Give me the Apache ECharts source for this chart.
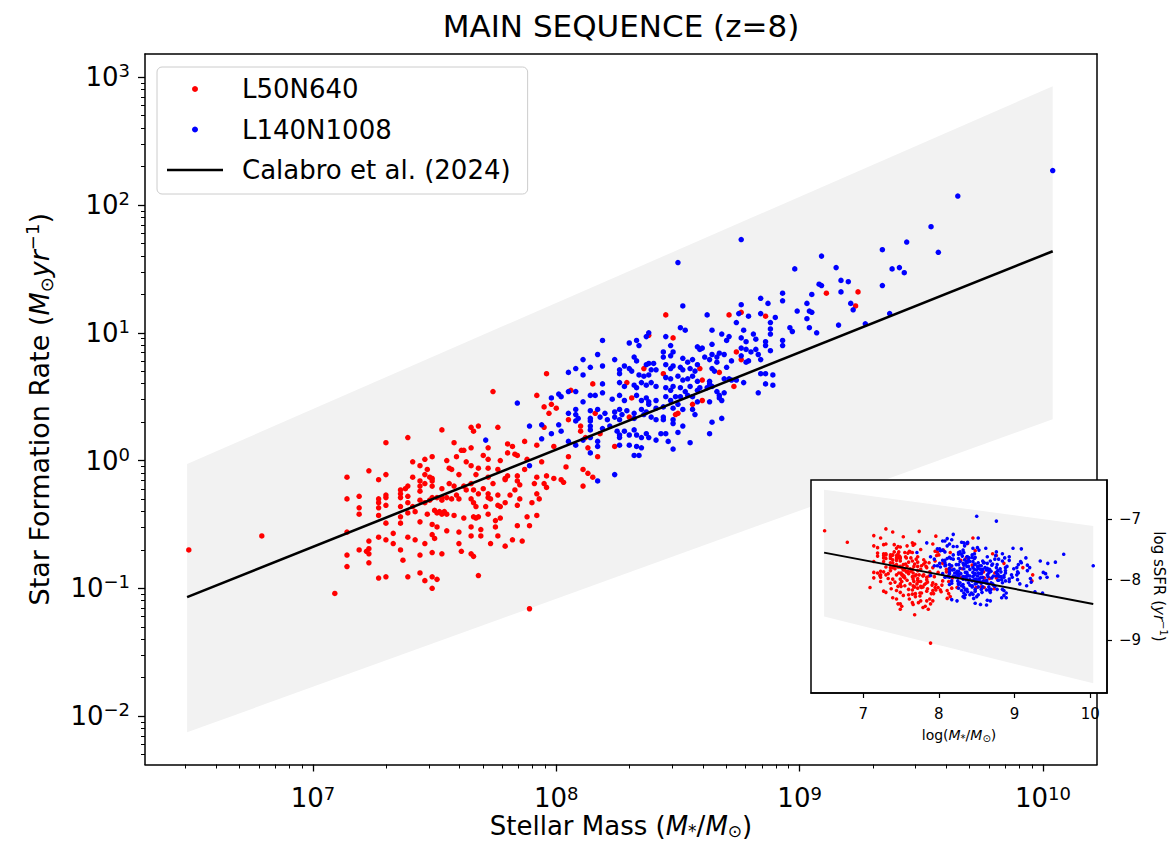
<!DOCTYPE html>
<html><head><meta charset="utf-8">
<script src="https://cdn.jsdelivr.net/npm/echarts@6/dist/echarts.min.js"></script>
<style>html,body{margin:0;padding:0;background:#fff}#c{width:1171px;height:846px}</style>
</head><body><div id="c"></div>
<script>
const titleText = 'MAIN SEQUENCE (z=8)';
const seriesNames = ['L50N640', 'L140N1008', 'Calabro et al. (2024)'];
const xTickExponents = [7, 8, 9, 10];
const yTickExponents = [-2, -1, 0, 1, 2, 3];
const insetXTicks = [7, 8, 9, 10];
const insetYTicks = [-9, -8, -7];
const logMassRange = [6.31, 10.222];
const logSFRRange = [-2.379, 3.182];
const logSSFRRange = [-9.876, -6.35];
const bandLogMass = [6.483, 10.04];
const bandUpperLogSFR = [-0.027, 2.929];
const bandLowerLogSFR = [-2.127, 0.324];
const calabroLogMass = [6.483, 10.04];
const calabroLogSFR = [-1.069, 1.638];

// [log10 M*, log10 SFR]
const redPoints = [
[6.49,-0.70],[6.79,-0.59],[7.09,-1.04],[7.89,-1.16],
[7.14,-0.13],[7.14,-0.30],[7.14,-0.56],[7.14,-0.74],[7.14,-0.83],
[7.19,-0.28],[7.19,-0.37],[7.19,-0.42],[7.19,-0.70],
[7.23,-0.08],[7.23,-0.63],[7.23,-0.69],[7.22,-0.71],[7.23,-0.73],[7.23,-0.80],
[7.27,-0.15],[7.27,-0.30],[7.27,-0.33],[7.27,-0.37],[7.27,-0.43],[7.27,-0.60],[7.27,-0.92],
[7.74,0.54],[7.92,0.51],[7.95,0.42],[7.98,0.44],[8.00,0.41],[7.97,0.37],
[7.53,0.24],[7.65,0.26],[7.68,0.27],[7.66,0.23],[7.76,0.26],[7.95,0.26],
[7.30,0.14],[7.39,0.18],[7.58,0.14],[7.80,0.13],[7.82,0.11],[7.87,0.15],[7.92,0.12],
[7.61,0.08],[7.62,0.08],[7.65,0.10],[7.72,0.10],[7.80,0.06],[7.83,0.05],[7.84,0.04],[7.99,0.11],
[7.49,0.03],[7.46,0.01],[7.41,-0.01],[7.55,0.00],[7.59,0.03],[7.63,-0.01],[7.65,-0.04],[7.70,0.04],[7.72,0.01],[7.77,0.00],[7.88,0.01],[7.94,-0.01],[8.05,0.03],
[7.44,-0.04],[7.47,-0.07],[7.46,-0.11],[7.56,-0.06],[7.57,-0.07],[7.68,-0.06],[7.72,-0.06],[7.76,-0.07],[7.87,-0.07],[8.04,-0.05],
[7.41,-0.13],[7.48,-0.13],[7.49,-0.14],[7.60,-0.11],[7.67,-0.11],[7.72,-0.13],[7.79,-0.14],[7.80,-0.12],[7.84,-0.12],[7.92,-0.13],[7.96,-0.12],[7.99,-0.14],
[7.30,-0.11],[7.36,-0.23],[7.36,-0.26],[7.39,-0.20],[7.38,-0.22],[7.44,-0.16],[7.44,-0.20],[7.44,-0.24],[7.46,-0.18],[7.49,-0.16],[7.49,-0.20],[7.53,-0.22],[7.56,-0.18],[7.58,-0.20],[7.62,-0.20],[7.63,-0.23],[7.65,-0.18],[7.66,-0.23],[7.68,-0.26],[7.70,-0.22],[7.72,-0.26],[7.74,-0.18],[7.79,-0.15],[7.84,-0.16],[7.85,-0.19],[7.83,-0.23],[7.91,-0.18],[7.95,-0.18],[7.96,-0.21],[8.02,-0.15],[8.03,-0.17],
[7.30,-0.27],[7.30,-0.29],[7.30,-0.35],[7.36,-0.29],[7.36,-0.36],[7.39,-0.33],[7.39,-0.28],[7.41,-0.36],[7.44,-0.31],[7.46,-0.33],[7.49,-0.29],[7.48,-0.31],[7.51,-0.29],[7.53,-0.29],[7.53,-0.31],[7.55,-0.29],[7.57,-0.30],[7.59,-0.27],[7.60,-0.30],[7.65,-0.30],[7.66,-0.33],[7.67,-0.36],[7.71,-0.36],[7.72,-0.29],[7.73,-0.30],[7.76,-0.27],[7.77,-0.36],[7.76,-0.35],[7.79,-0.33],[7.81,-0.27],[7.84,-0.35],[7.85,-0.30],[7.90,-0.33],[7.92,-0.26],[7.93,-0.30],
[7.30,-0.49],[7.36,-0.44],[7.36,-0.49],[7.39,-0.41],[7.42,-0.40],[7.44,-0.48],[7.47,-0.42],[7.49,-0.50],[7.50,-0.39],[7.51,-0.41],[7.52,-0.40],[7.53,-0.42],[7.54,-0.40],[7.55,-0.42],[7.51,-0.52],[7.55,-0.55],[7.58,-0.43],[7.60,-0.56],[7.62,-0.45],[7.65,-0.52],[7.66,-0.44],[7.67,-0.45],[7.68,-0.44],[7.69,-0.54],[7.72,-0.42],[7.75,-0.47],[7.75,-0.52],[7.77,-0.45],[7.84,-0.51],[7.88,-0.44],[7.89,-0.51],[7.92,-0.43],
[7.30,-0.62],[7.33,-0.57],[7.33,-0.65],[7.36,-0.70],[7.37,-0.78],[7.39,-0.60],[7.42,-0.62],[7.46,-0.65],[7.49,-0.58],[7.50,-0.61],[7.49,-0.72],[7.53,-0.73],[7.60,-0.65],[7.65,-0.59],[7.61,-0.71],[7.65,-0.73],[7.66,-0.75],[7.69,-0.59],[7.73,-0.65],[7.76,-0.59],[7.79,-0.67],[7.82,-0.62],[7.86,-0.63],
[7.44,-0.74],[7.39,-0.91],[7.44,-0.88],[7.49,-0.91],[7.68,-0.90],[7.30,-0.91],[7.46,-0.94],[7.51,-0.93],[7.49,-1.00],
[7.96,0.68],[8.06,0.55],[8.15,0.60],[8.29,0.61],[8.36,0.72],[8.31,0.49],[8.16,0.37],[8.05,0.32],[8.30,0.34],[8.10,0.27],[8.10,0.23],[8.18,0.21],[8.12,0.18],[8.24,0.11],[8.13,0.10],[8.17,0.03],[8.11,-0.07],[8.13,-0.10],[8.15,-0.13],[8.11,-0.20],[8.38,0.98],
[8.45,1.14],[8.71,1.14],[8.76,1.16],[8.86,1.13],[8.48,0.96],[8.74,0.85],[8.76,0.79],[8.59,0.72],[8.67,0.69],[8.44,0.68],[8.60,0.63],[8.73,0.58],[8.60,0.47],[8.56,0.44],[8.50,0.37],[8.49,0.36],
[9.11,1.31],[9.24,1.32],[9.23,1.21]
];

const bluePoints = [
[7.84,0.45],[7.98,0.49],[8.01,0.52],[8.02,0.50],[8.05,0.54],[8.05,0.37],[7.89,0.27],[7.94,0.28],[7.98,0.21],[8.01,0.28],[8.02,0.23],[7.71,0.16],[7.94,0.17],[8.05,0.15],[7.89,-0.04],
[8.05,0.69],[8.08,0.72],[8.11,0.67],[8.11,0.79],[8.14,0.73],[8.17,0.83],[8.19,0.94],[8.19,0.74],[8.24,0.79],[8.26,0.71],[8.26,0.68],[8.30,0.92],[8.33,0.94],[8.34,0.90],[8.37,0.97],[8.38,1.00],[8.32,0.81],[8.33,0.78],[8.28,0.74],[8.30,0.72],[8.31,0.70],[8.37,0.75],[8.38,0.76],[8.40,0.76],[8.39,0.71],[8.41,0.71],[8.34,0.67],[8.36,0.66],[8.38,0.67],[8.26,0.61],[8.28,0.58],[8.19,0.60],[8.32,0.59],[8.33,0.57],[8.35,0.61],[8.37,0.59],[8.39,0.61],[8.41,0.58],
[8.08,0.54],[8.11,0.46],[8.14,0.51],[8.16,0.51],[8.19,0.53],[8.23,0.48],[8.26,0.51],[8.28,0.47],[8.33,0.51],[8.35,0.47],[8.37,0.49],[8.38,0.46],[8.38,0.44],[8.41,0.47],[8.41,0.41],
[8.08,0.40],[8.08,0.36],[8.09,0.33],[8.08,0.31],[8.14,0.39],[8.14,0.33],[8.14,0.31],[8.17,0.40],[8.18,0.34],[8.20,0.37],[8.21,0.32],[8.24,0.38],[8.24,0.34],[8.26,0.40],[8.27,0.36],[8.26,0.32],[8.29,0.39],[8.32,0.37],[8.32,0.33],[8.35,0.40],[8.36,0.36],[8.37,0.38],[8.39,0.34],[8.41,0.32],
[8.14,0.27],[8.14,0.24],[8.19,0.25],[8.22,0.27],[8.25,0.23],[8.26,0.20],[8.26,0.18],[8.28,0.23],[8.30,0.20],[8.32,0.24],[8.33,0.20],[8.35,0.18],[8.37,0.21],[8.38,0.18],[8.41,0.16],[8.14,0.18],[8.17,0.15],[8.11,0.16],[8.08,0.12],[8.30,0.12],[8.26,0.12],[8.33,0.11],[8.35,0.10],[8.17,0.11],[8.14,0.06],[8.32,0.04],[8.34,0.04],[8.24,-0.11],[8.17,-0.16],
[8.52,1.21],[8.62,1.14],[8.75,1.15],[8.76,1.22],[8.79,1.13],[8.84,1.27],[8.87,1.23],[8.93,1.31],[8.93,1.25],[8.99,1.17],[8.84,1.15],[8.90,1.12],[8.88,1.08],[8.51,1.04],[8.53,1.02],[8.74,1.08],[8.64,1.02],[8.77,1.02],[8.81,0.99],[8.88,1.03],[8.88,0.99],[8.96,1.04],[8.97,1.01],[8.45,0.97],[8.47,0.90],[8.68,0.99],[8.70,0.94],[8.71,0.97],[8.76,0.96],[8.78,0.93],[8.82,0.95],[8.86,0.93],[8.93,0.94],
[8.58,0.89],[8.59,0.87],[8.60,0.88],[8.64,0.91],[8.64,0.83],[8.67,0.84],[8.69,0.83],[8.76,0.88],[8.78,0.87],[8.80,0.85],[8.82,0.87],[8.83,0.83],[8.86,0.90],[8.88,0.86],[8.93,0.90],
[8.44,0.85],[8.44,0.81],[8.48,0.85],[8.47,0.82],[8.52,0.80],[8.54,0.77],[8.56,0.79],[8.58,0.75],[8.61,0.81],[8.63,0.79],[8.66,0.81],[8.66,0.77],[8.72,0.78],[8.76,0.82],[8.78,0.77],[8.79,0.78],[8.84,0.79],
[8.45,0.75],[8.47,0.72],[8.48,0.74],[8.51,0.73],[8.52,0.71],[8.55,0.72],[8.57,0.70],[8.64,0.72],[8.65,0.70],[8.70,0.73],[8.84,0.68],[8.86,0.68],[8.89,0.67],
[8.45,0.65],[8.47,0.64],[8.50,0.66],[8.52,0.63],[8.54,0.64],[8.56,0.66],[8.58,0.62],[8.63,0.60],[8.63,0.62],[8.69,0.64],[8.71,0.64],[8.72,0.63],[8.74,0.63],[8.77,0.61],[8.86,0.60],[8.89,0.59],
[8.45,0.57],[8.47,0.55],[8.48,0.58],[8.51,0.57],[8.53,0.54],[8.55,0.58],[8.58,0.55],[8.59,0.57],[8.62,0.57],[8.64,0.58],[8.66,0.54],[8.67,0.51],[8.67,0.49],[8.69,0.53],[8.83,0.53],
[8.45,0.50],[8.47,0.47],[8.49,0.50],[8.51,0.50],[8.54,0.51],[8.56,0.50],[8.58,0.46],[8.63,0.46],[8.68,0.47],
[8.44,0.42],[8.48,0.41],[8.50,0.44],[8.52,0.40],[8.56,0.40],[8.57,0.36],[8.44,0.34],[8.44,0.32],[8.48,0.32],[8.48,0.29],[8.52,0.27],[8.64,0.30],[8.68,0.33],[8.45,0.21],[8.43,0.21],[8.50,0.22],[8.63,0.21],[8.46,0.15],[8.55,0.14],[8.48,0.09],
[8.76,1.73],[8.50,1.55],
[10.04,2.27],[9.65,2.07],[9.54,1.83],[9.44,1.71],[9.57,1.63],[9.34,1.65],[9.09,1.60],[8.98,1.50],[9.15,1.51],[9.38,1.50],[9.41,1.51],[9.43,1.47],[9.17,1.41],[9.20,1.40],[9.08,1.38],[9.09,1.37],[9.17,1.32],[9.05,1.30],[9.34,1.37],[9.21,1.23],[9.22,1.18],[9.03,1.23],[9.04,1.17],[9.05,1.16],[9.03,1.11],[9.37,1.15],[9.16,1.06],[9.04,1.04],[9.07,1.00],[9.27,1.07]
];

const F = 'DejaVu Sans';
const RED = '#ff0000', BLUE = '#0000ff', BAND = '#f2f2f2';

function minorTicks(lo, hi) {
  const out = [];
  for (let n = Math.floor(lo) - 1; n <= Math.ceil(hi); n++) {
    for (let k = 2; k <= 9; k++) {
      const v = n + Math.log10(k);
      if (v > lo && v < hi) out.push(v);
    }
  }
  return out;
}
const minus = v => (v < 0 ? '\u2212' + (-v) : '' + v);
const powLabel = v => '{b|10}{s|' + minus(Math.round(v)) + '}';
function mathRich(size, small, lhf, subLh) {
  const lh = Math.round(size * (lhf || 1.2));
  return {
    b: { fontFamily: F, fontSize: size, lineHeight: lh, color: '#000' },
    i: { fontFamily: F, fontSize: size, fontStyle: 'italic', lineHeight: lh, color: '#000' },
    s: { fontFamily: F, fontSize: small, lineHeight: small, verticalAlign: 'top', color: '#000' },
    sup: { fontFamily: F, fontSize: small, lineHeight: small, verticalAlign: 'top', color: '#000' },
    sub: { fontFamily: F, fontSize: small, lineHeight: subLh || Math.round(small * 1.35), verticalAlign: 'bottom', color: '#000' }
  };
}
const toSSFR = p => [p[0], p[1] - p[0]];

const spine = { show: true, onZero: false, lineStyle: { color: '#000', width: 1.5 } };
const noLine = { show: false, onZero: false };
const noSplit = { show: false };

const chart = echarts.init(document.getElementById('c'), null, { renderer: 'svg' });
chart.setOption({
  animation: false,
  backgroundColor: '#fff',
  title: {
    text: titleText, left: 621, top: 10, textAlign: 'center', padding: 0,
    textStyle: { fontFamily: F, fontSize: 31, fontWeight: 'normal', color: '#000' }
  },
  legend: {
    data: [{ name: seriesNames[0] }, { name: seriesNames[1] }, { name: seriesNames[2], icon: 'path://M0,0H200V9H0Z' }],
    orient: 'vertical', left: 157, top: 67,
    padding: [7, 17, 9, 10], itemGap: 10.5,
    itemWidth: 56, itemHeight: 6,
    backgroundColor: 'rgba(255,255,255,0.8)', borderColor: '#cccccc', borderWidth: 1, borderRadius: 5,
    textStyle: { fontFamily: F, fontSize: 26, lineHeight: 30, color: '#000', padding: [0, 0, 0, 14] }
  },
  grid: [
    { left: 145, top: 54, width: 952, height: 710.5, show: false, outerBoundsMode: 'none', containLabel: false },
    { left: 811, top: 480, width: 296, height: 213, show: true, backgroundColor: '#fff', borderColor: '#000', borderWidth: 1.5, z: 10, outerBoundsMode: 'none', containLabel: false }
  ],
  xAxis: [
    { type: 'value', gridIndex: 0, position: 'bottom', min: logMassRange[0], max: logMassRange[1],
      axisLine: spine, splitLine: noSplit,
      axisTick: { show: true, customValues: xTickExponents, length: 7, lineStyle: { color: '#000', width: 1.3 } },
      axisLabel: { customValues: xTickExponents, formatter: powLabel, margin: 20, rich: mathRich(26, 18, 1.0) },
      name: 'Stellar Mass ({i|M}{sub|*}/{i|M}{sub|\u2299})', nameLocation: 'middle', nameGap: 48, nameMoveOverlap: false,
      nameTextStyle: { fontFamily: F, fontSize: 26, lineHeight: 27, color: '#000', rich: mathRich(26, 17, 1.04, 22) } },
    { type: 'value', gridIndex: 0, position: 'bottom', min: logMassRange[0], max: logMassRange[1],
      axisLine: noLine, splitLine: noSplit, axisLabel: { show: false },
      axisTick: { show: true, customValues: minorTicks(logMassRange[0], logMassRange[1]), length: 4, lineStyle: { color: '#000', width: 1 } } },
    { type: 'value', gridIndex: 0, position: 'top', min: logMassRange[0], max: logMassRange[1],
      axisLine: spine, splitLine: noSplit, axisLabel: { show: false }, axisTick: { show: false } },
    { type: 'value', gridIndex: 1, position: 'bottom', min: logMassRange[0], max: logMassRange[1], z: 12,
      axisLine: spine, splitLine: noSplit,
      axisTick: { show: true, customValues: insetXTicks, length: 5, lineStyle: { color: '#000', width: 1.2 } },
      axisLabel: { customValues: insetXTicks, margin: 13, fontFamily: F, fontSize: 15, color: '#000' },
      name: 'log({i|M}{sub|*}/{i|M}{sub|\u2299})', nameLocation: 'middle', nameGap: 33,
      nameTextStyle: { fontFamily: F, fontSize: 14, color: '#000', rich: mathRich(14, 10) } }
  ],
  yAxis: [
    { type: 'value', gridIndex: 0, position: 'left', min: logSFRRange[0], max: logSFRRange[1],
      axisLine: spine, splitLine: noSplit,
      axisTick: { show: true, customValues: yTickExponents, length: 7, lineStyle: { color: '#000', width: 1.3 } },
      axisLabel: { customValues: yTickExponents, formatter: powLabel, margin: 15, rich: mathRich(26, 18) },
      name: 'Star Formation Rate ({i|M}{sub|\u2299}{i|yr}{sup|\u22121})', nameLocation: 'middle', nameGap: 90, nameRotate: 90,
      nameTextStyle: { fontFamily: F, fontSize: 27, color: '#000', rich: mathRich(27, 18) } },
    { type: 'value', gridIndex: 0, position: 'left', min: logSFRRange[0], max: logSFRRange[1],
      axisLine: noLine, splitLine: noSplit, axisLabel: { show: false },
      axisTick: { show: true, customValues: minorTicks(logSFRRange[0], logSFRRange[1]), length: 4, lineStyle: { color: '#000', width: 1 } } },
    { type: 'value', gridIndex: 0, position: 'right', min: logSFRRange[0], max: logSFRRange[1],
      axisLine: spine, splitLine: noSplit, axisLabel: { show: false }, axisTick: { show: false } },
    { type: 'value', gridIndex: 1, position: 'right', min: logSSFRRange[0], max: logSSFRRange[1], z: 12,
      axisLine: spine, splitLine: noSplit,
      axisTick: { show: true, customValues: insetYTicks, length: 5, lineStyle: { color: '#000', width: 1.2 } },
      axisLabel: { customValues: insetYTicks, formatter: v => minus(Math.round(v)), margin: 12, fontFamily: F, fontSize: 15, color: '#000' },
      name: 'log sSFR ({i|yr}{sup|\u22121})', nameLocation: 'middle', nameGap: 43, nameRotate: -90,
      nameTextStyle: { fontFamily: F, fontSize: 15, color: '#000', rich: mathRich(15, 10) } }
  ],
  series: [
    { type: 'custom', name: 'band', xAxisIndex: 0, yAxisIndex: 0, z: 1, silent: true,
      data: [[bandLogMass[0], bandUpperLogSFR[0]]],
      renderItem: (params, api) => ({
        type: 'polygon',
        shape: { points: [
          api.coord([bandLogMass[0], bandUpperLogSFR[0]]), api.coord([bandLogMass[1], bandUpperLogSFR[1]]),
          api.coord([bandLogMass[1], bandLowerLogSFR[1]]), api.coord([bandLogMass[0], bandLowerLogSFR[0]])] },
        style: { fill: BAND }
      }) },
    { type: 'scatter', name: seriesNames[0], xAxisIndex: 0, yAxisIndex: 0, z: 2, data: redPoints,
      symbol: 'circle', symbolSize: 5.5, itemStyle: { color: RED, opacity: 1 } },
    { type: 'scatter', name: seriesNames[1], xAxisIndex: 0, yAxisIndex: 0, z: 3, data: bluePoints,
      symbol: 'circle', symbolSize: 5.5, itemStyle: { color: BLUE, opacity: 1 } },
    { type: 'line', name: seriesNames[2], xAxisIndex: 0, yAxisIndex: 0, z: 4, symbol: 'none',
      data: calabroLogMass.map((m, i) => [m, calabroLogSFR[i]]),
      lineStyle: { color: '#000', width: 2.6 }, itemStyle: { color: '#000' } },

    { type: 'custom', name: 'band inset', xAxisIndex: 3, yAxisIndex: 3, z: 11, silent: true,
      data: [[bandLogMass[0], bandUpperLogSFR[0] - bandLogMass[0]]],
      renderItem: (params, api) => ({
        type: 'polygon',
        shape: { points: [
          api.coord([bandLogMass[0], bandUpperLogSFR[0] - bandLogMass[0]]), api.coord([bandLogMass[1], bandUpperLogSFR[1] - bandLogMass[1]]),
          api.coord([bandLogMass[1], bandLowerLogSFR[1] - bandLogMass[1]]), api.coord([bandLogMass[0], bandLowerLogSFR[0] - bandLogMass[0]])] },
        style: { fill: BAND }
      }) },
    { type: 'scatter', name: 'inset red', xAxisIndex: 3, yAxisIndex: 3, z: 12, data: redPoints.map(toSSFR),
      symbol: 'circle', symbolSize: 3.6, itemStyle: { color: RED, opacity: 1 } },
    { type: 'scatter', name: 'inset blue', xAxisIndex: 3, yAxisIndex: 3, z: 13, data: bluePoints.map(toSSFR),
      symbol: 'circle', symbolSize: 3.6, itemStyle: { color: BLUE, opacity: 1 } },
    { type: 'line', name: 'inset line', xAxisIndex: 3, yAxisIndex: 3, z: 14, symbol: 'none',
      data: calabroLogMass.map((m, i) => [m, calabroLogSFR[i] - m]),
      lineStyle: { color: '#000', width: 2 } }
  ]
});
</script>
</body></html>
